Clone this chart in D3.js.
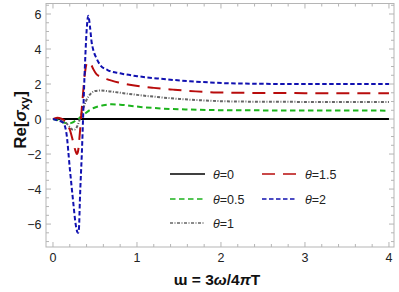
<!DOCTYPE html>
<html><head><meta charset="utf-8">
<script src="https://cdn.jsdelivr.net/npm/d3@7"></script>
<style>
body{margin:0;background:#fff;}
svg{display:block;font-family:"Liberation Sans",Arial,sans-serif;}
</style></head>
<body><svg id="c" width="399" height="292"></svg>
<script>
// ---- data ----
const xTicks = [0,1,2,3,4];
const yTicks = [-6,-4,-2,0,2,4,6];
const thetaLabels = ["0","0.5","1","1.5","2"];

const x0 = [0,4];
const y0 = [0,0];

const x05 = [0,0.05,0.1,0.14,0.18,0.22,0.26,0.3,0.34,0.38,0.44,0.5,0.6,0.7,0.8,1.04,1.3,1.63,2.2,3,4];
const y05 = [0,-0.05,-0.15,-0.22,-0.25,-0.22,-0.12,0.0,0.15,0.3,0.52,0.66,0.79,0.84,0.82,0.69,0.6,0.54,0.5,0.49,0.48];

const x1 = [0,0.05,0.1,0.15,0.2,0.23,0.26,0.29,0.32,0.36,0.4,0.45,0.5,0.56,0.64,0.8,1.0,1.24,1.5,1.8,2.2,3,4];
const y1 = [0,0.02,-0.05,-0.2,-0.45,-0.6,-0.6,-0.4,0,0.6,1.1,1.45,1.6,1.63,1.6,1.5,1.38,1.26,1.15,1.06,1.0,0.98,0.98];

const x15 = [0,0.05,0.1,0.15,0.2,0.24,0.27,0.285,0.3,0.32,0.35,0.38,0.4,0.42,0.45,0.48,0.52,0.58,0.64,0.8,0.95,1.2,1.43,1.7,1.95,2.5,3,4];
const y15 = [0,0.08,0.02,-0.15,-0.6,-1.3,-1.85,-2.0,-1.8,-0.8,1.0,2.6,3.15,3.25,3.15,2.85,2.55,2.4,2.28,2.07,1.93,1.78,1.68,1.58,1.52,1.49,1.48,1.47];

const x2 = [0,0.06,0.12,0.16,0.2,0.24,0.27,0.29,0.3,0.31,0.32,0.345,0.38,0.4,0.42,0.44,0.46,0.48,0.52,0.56,0.65,0.8,1.0,1.24,1.63,2.2,3,4];
const y2 = [0,-0.08,-0.2,-0.8,-2.8,-4.7,-6.0,-6.45,-6.5,-6.2,-4.7,-1.8,3.0,5.0,5.9,5.3,4.4,3.95,3.45,3.1,2.8,2.61,2.45,2.32,2.16,2.03,2.0,2.0];

const seriesX = [x0,x05,x1,x15,x2];
const seriesY = [y0,y05,y1,y15,y2];
const colors = ["#000000","#1db31d","#666666","#b80c0c","#1010b0"];
const dashes = ["none","5.5,3.5","3,1.5,1,1.5","13,8","4.5,2.5"];

// ---- layout ----
const svg = d3.select("#c");
const L=46, R=394, T=3.5, B=247;
const x = d3.scaleLinear().domain([-0.083,4.06]).range([L,R]);
const y = d3.scaleLinear().domain([-7.31,6.6]).range([B,T]);

const frameCol = "#b5b5b5";
const g = svg.append("g");

const xMinor = d3.range(0,4.01,0.2).filter(v=>Math.abs(v-Math.round(v))>1e-6);
const yMinor = d3.range(-7,6.6,0.5).filter(v=>Math.abs(v/2-Math.round(v/2))>1e-6);

function tickLines(vals, len, horiz){
  vals.forEach(v=>{
    if(horiz){
      const px = x(v);
      g.append("line").attr("x1",px).attr("x2",px).attr("y1",B).attr("y2",B-len).attr("stroke",frameCol);
      g.append("line").attr("x1",px).attr("x2",px).attr("y1",T).attr("y2",T+len).attr("stroke",frameCol);
    } else {
      const py = y(v);
      g.append("line").attr("y1",py).attr("y2",py).attr("x1",L).attr("x2",L+len).attr("stroke",frameCol);
      g.append("line").attr("y1",py).attr("y2",py).attr("x1",R).attr("x2",R-len).attr("stroke",frameCol);
    }
  });
}
tickLines(xTicks,5,true);
tickLines(xMinor,3,true);
tickLines(yTicks,5,false);
tickLines(yMinor,3,false);

g.append("rect").attr("x",L).attr("y",T).attr("width",R-L).attr("height",B-T)
 .attr("fill","none").attr("stroke",frameCol).attr("stroke-width",1);

xTicks.forEach(v=>{
  svg.append("text").attr("x",x(v)).attr("y",262).attr("text-anchor","middle")
   .attr("font-size",12.5).attr("fill","#222").text(v);
});
yTicks.forEach(v=>{
  svg.append("text").attr("x",41.5).attr("y",y(v)+4.5).attr("text-anchor","end")
   .attr("font-size",12.5).attr("fill","#222").text(v<0?"\u2212"+(-v):v);
});

const line = d3.line().x(d=>x(d[0])).y(d=>y(d[1])).curve(d3.curveMonotoneX);
[0,1,2,3,4].forEach(i=>{
  const pts = seriesX[i].map((v,k)=>[v,seriesY[i][k]]);
  svg.append("path").attr("d",line(pts)).attr("fill","none")
   .attr("stroke",colors[i]).attr("stroke-width",2)
   .attr("stroke-dasharray",dashes[i]);
});

const legPos = [[170,174],[170,199],[170,223],[262,174],[262,199]];
thetaLabels.forEach((t,i)=>{
  const [lx,ly] = legPos[i];
  svg.append("line").attr("x1",lx).attr("x2",lx+35).attr("y1",ly).attr("y2",ly)
   .attr("stroke",colors[i]).attr("stroke-width",1.6).attr("stroke-dasharray",dashes[i]);
  const tx = svg.append("text").attr("x",lx+43).attr("y",ly+4.5).attr("font-size",12.5).attr("fill","#222");
  tx.append("tspan").attr("font-style","italic").text("\u03b8");
  tx.append("tspan").text("="+t);
});

const xl = svg.append("text").attr("x",217).attr("y",285).attr("text-anchor","middle")
  .attr("font-size",15.5).attr("font-weight","bold").attr("fill","#111");
xl.append("tspan").text("\u026f = 3");
xl.append("tspan").attr("font-style","italic").text("\u03c9");
xl.append("tspan").text("/4");
xl.append("tspan").attr("font-style","italic").text("\u03c0");
xl.append("tspan").text("T");

const yl = svg.append("text").attr("transform","translate(26,120) rotate(-90)").attr("text-anchor","middle")
  .attr("font-size",17).attr("font-weight","bold").attr("fill","#111");
yl.append("tspan").text("Re[");
yl.append("tspan").attr("font-style","italic").text("\u03c3");
yl.append("tspan").attr("font-size",12).attr("dy",3).text("xy");
yl.append("tspan").attr("dy",-3).text("]");
</script></body></html>
